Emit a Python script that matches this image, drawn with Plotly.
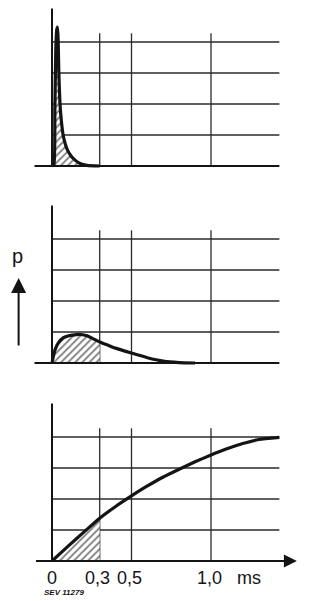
import plotly.graph_objects as go

# ---------------- data ----------------
# time axis (ms)
x_ticks = [0, 0.3, 0.5, 1.0]
x_tick_labels = ["0", "0,3", "0,5", "1,0"]
x_unit = "ms"
grid_levels = [1, 2, 3, 4]
x_grid = [0.3, 0.5, 1.0]
hatch_end = 0.3

# panel 1: sharp spike
t1 = [0, 0.012, 0.018, 0.024, 0.030, 0.035, 0.039, 0.043, 0.050, 0.060, 0.070,
      0.083, 0.097, 0.12, 0.145, 0.18, 0.22, 0.3]
p1 = [0, 0.05, 1.8, 3.8, 4.4, 4.48, 4.0, 3.0, 2.03, 1.4, 1.0,
      0.72, 0.52, 0.32, 0.19, 0.07, 0.02, 0.0]

# panel 2: broad hump
t2 = [0, 0.01, 0.02, 0.04, 0.07, 0.1, 0.14, 0.18, 0.22, 0.26, 0.3, 0.35, 0.4,
      0.5, 0.6, 0.7, 0.8, 0.9]
p2 = [0, 0.25, 0.44, 0.65, 0.81, 0.87, 0.91, 0.92, 0.88, 0.78, 0.68, 0.58, 0.48,
      0.32, 0.17, 0.06, 0.015, 0.0]

# panel 3: rising curve
t3 = [0, 0.1, 0.2, 0.3, 0.4, 0.5, 0.6, 0.7, 0.8, 0.9, 1.0, 1.1, 1.2, 1.3, 1.43]
p3 = [0, 0.47, 0.93, 1.38, 1.76, 2.1, 2.42, 2.71, 2.96, 3.2, 3.42, 3.62, 3.79,
      3.92, 3.99]

y_label = "p"
figure_code = "SEV 11279"

# ---------------- layout helpers ----------------
W, H = 312, 601
px_x0, px_per_ms = 52, 159.0
x_range = [(0 - px_x0) / px_per_ms, (W - px_x0) / px_per_ms]
unit_px = 31.0
# (top px, bottom px, baseline px) for each panel
panels = [(0, 190, 166), (190, 380, 363), (380, 601, 561)]

INK = "#141414"
GRID = "#2a2a2a"
x_start, x_end, x_arrow = -0.11, 1.43, 1.54
vgrid_top, yaxis_top = 4.28, 5.08

fig = go.Figure()
shapes = []
annotations = []
series = [(t1, p1), (t2, p2), (t3, p3)]

for i, ((top, bot, base), (t, p)) in enumerate(zip(panels, series)):
    yname = "yaxis" if i == 0 else f"yaxis{i+1}"
    yref = "y" if i == 0 else f"y{i+1}"
    fig.update_layout({
        yname: dict(domain=[1 - bot / H, 1 - top / H],
                    range=[-(bot - base) / unit_px, (base - top) / unit_px],
                    visible=False, anchor="x", fixedrange=True)
    })
    # horizontal grid lines
    for g in grid_levels:
        shapes.append(dict(type="line", xref="x", yref=yref, x0=0, x1=x_end,
                           y0=g, y1=g, line=dict(color=GRID, width=1.3), layer="below"))
    # vertical grid lines
    for gx in x_grid:
        shapes.append(dict(type="line", xref="x", yref=yref, x0=gx, x1=gx,
                           y0=0, y1=vgrid_top, line=dict(color=GRID, width=1.3), layer="below"))
    # y axis
    shapes.append(dict(type="line", xref="x", yref=yref, x0=0, x1=0,
                       y0=0, y1=yaxis_top, line=dict(color=INK, width=2)))
    # baseline
    if i < 2:
        shapes.append(dict(type="line", xref="x", yref=yref, x0=x_start, x1=x_end,
                           y0=0, y1=0, line=dict(color=INK, width=2)))
    else:
        annotations.append(dict(x=x_arrow, y=0, ax=x_start, ay=0, xref="x", yref=yref,
                                axref="x", ayref=yref, showarrow=True, arrowhead=2,
                                arrowsize=1.3, arrowwidth=2, arrowcolor=INK, text=""))
    # hatched area
    th = [a for a in t if a <= hatch_end]
    ph = [b for a, b in zip(t, p) if a <= hatch_end]
    fig.add_trace(go.Scatter(x=th, y=ph, xaxis="x", yaxis=yref, mode="lines",
                             line=dict(width=0), fill="tozeroy", fillcolor="rgba(0,0,0,0)",
                             fillpattern=dict(shape="/", fgcolor="#000000", bgcolor="white",
                                              size=5, solidity=0.35),
                             hoverinfo="skip", showlegend=False))
    # curve
    fig.add_trace(go.Scatter(x=t, y=p, xaxis="x", yaxis=yref, mode="lines",
                             line=dict(color=INK, width=3.2, shape="spline", smoothing=0.5),
                             showlegend=False))

# tick labels under bottom panel
tick_y = -(578 - 561) / unit_px
for xv, lab in zip(x_ticks, x_tick_labels):
    annotations.append(dict(x=xv, y=tick_y, xref="x", yref="y3", text=lab, showarrow=False,
                            xshift=-2 if xv > 0 else 0, borderpad=0,
                            font=dict(family="Liberation Sans", size=18, color=INK)))
annotations.append(dict(x=1.24, y=tick_y, xref="x", yref="y3", text=x_unit, showarrow=False,
                        borderpad=0,
                        font=dict(family="Liberation Sans", size=18, color=INK)))

# p label with upward arrow (middle panel)
annotations.append(dict(x=-0.21, y=2.74, ax=-0.21, ay=0.52, xref="x", yref="y2",
                        axref="x", ayref="y2", showarrow=True, arrowhead=2, arrowsize=1.5,
                        arrowwidth=2, arrowcolor=INK, text=""))
annotations.append(dict(x=-0.215, y=3.45, xref="x", yref="y2", text=y_label, showarrow=False,
                        font=dict(family="Liberation Sans", size=20, color=INK)))

# figure code
annotations.append(dict(x=43 / W, y=1 - 598 / H, xref="paper", yref="paper",
                        text=f"<b><i>{figure_code}</i></b>", showarrow=False, borderpad=0,
                        font=dict(family="Liberation Sans", size=8, color=INK)))

fig.update_layout(
    width=W, height=H,
    margin=dict(l=0, r=0, t=0, b=0),
    paper_bgcolor="white", plot_bgcolor="white",
    xaxis=dict(range=x_range, domain=[0, 1], visible=False, fixedrange=True, anchor="y3"),
    shapes=shapes, annotations=annotations, showlegend=False,
)

fig.write_html("out.html", config={"displayModeBar": False},
               post_script="document.body.style.margin='0px';document.body.style.overflow='hidden';")
